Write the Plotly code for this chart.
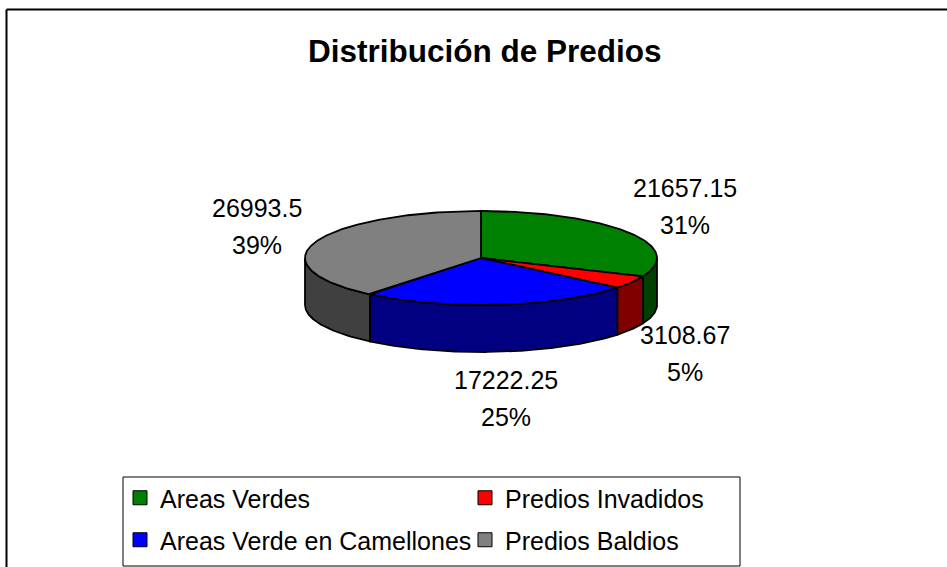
import math
import plotly.graph_objects as go

# Land-use breakdown (area per category)
categories = ["Areas Verdes", "Predios Invadidos", "Areas Verde en Camellones", "Predios Baldios"]
values = [21657.15, 3108.67, 17222.25, 26993.5]
top_colors = ["#008000", "#FF0000", "#0000FF", "#808080"]
side_colors = ["#004000", "#800000", "#000080", "#404040"]

TITLE = "Distribución de Predios"
FONT = "Liberation Sans, Arial, sans-serif"

# Canvas is mapped 1:1 to axis units so the tilted pie can be laid out in pixels
W, H = 947, 567
CX, CY = 481, 258      # centre of the top face
RX, RY = 176, 47       # semi-axes of the tilted top face
DEPTH = 47             # thickness of the pie

total = sum(values)
fracs = [v / total for v in values]
bounds = [0.0]
for f in fracs:
    bounds.append(bounds[-1] + f * 360.0)


def rim(theta, drop=0.0):
    """Point on the pie rim; theta in degrees clockwise from 12 o'clock."""
    t = math.radians(theta)
    return CX + RX * math.sin(t), CY - RY * math.cos(t) + drop


def arc(a0, a1, drop=0.0):
    n = max(3, int(abs(a1 - a0) * 2) + 1)
    return [rim(a0 + (a1 - a0) * i / (n - 1), drop) for i in range(n)]


def poly_trace(pts, fill):
    xs = [p[0] for p in pts] + [pts[0][0]]
    ys = [p[1] for p in pts] + [pts[0][1]]
    return go.Scatter(
        x=xs, y=ys, mode="lines", fill="toself", fillcolor=fill,
        line=dict(color="black", width=1.8), hoverinfo="skip", showlegend=False,
    )


fig = go.Figure()

# Outer walls: only the front half (90..270 degrees) faces the viewer
for i in range(len(values)):
    lo, hi = max(bounds[i], 90.0), min(bounds[i + 1], 270.0)
    if hi > lo:
        pts = arc(lo, hi) + arc(hi, lo, DEPTH)
        fig.add_trace(poly_trace(pts, side_colors[i]))

# Top faces
for i in range(len(values)):
    pts = [(CX, CY)] + arc(bounds[i], bounds[i + 1])
    fig.add_trace(poly_trace(pts, top_colors[i]))

# Legend entries (square swatches), split over two rows
for i, name in enumerate(categories):
    fig.add_trace(go.Scatter(
        x=[None], y=[None], mode="markers", name=name,
        marker=dict(symbol="square", size=14, color=top_colors[i],
                    line=dict(color="black", width=1)),
        legend="legend" if i < 2 else "legend2",
    ))

# Data labels: value and share, placed just outside each slice's mid-angle
CHAR_W = {".": 0.278, "%": 0.889}
LABEL_SIZE = 25
LINE_GAP = 37


def text_width(s, size):
    return sum(CHAR_W.get(c, 0.556) for c in s) * size


annotations = []
for i, v in enumerate(values):
    mid = (bounds[i] + bounds[i + 1]) / 2
    t = math.radians(mid)
    front = 90 < mid < 270
    px, py = rim(mid, DEPTH if front else 0)
    val_txt = str(v)
    pct_txt = f"{round(100 * v / total)}%"
    w = max(text_width(val_txt, LABEL_SIZE), text_width(pct_txt, LABEL_SIZE))
    h = 2 * LINE_GAP
    lx = px + math.sin(t) * (w / 2 + 17)
    ly = py - math.cos(t) * (h / 2 + 10)
    for txt, dy in ((val_txt, -LINE_GAP / 2), (pct_txt, LINE_GAP / 2)):
        annotations.append(dict(
            x=lx, y=ly + dy, xref="x", yref="y", text=txt, showarrow=False,
            xanchor="center", yanchor="middle",
            font=dict(family=FONT, size=LABEL_SIZE, color="black"),
        ))

annotations.append(dict(
    x=485, y=51, xref="x", yref="y", text=f"<b>{TITLE}</b>", showarrow=False,
    xanchor="center", yanchor="middle",
    font=dict(family=FONT, size=31.5, color="black"),
))

legend_common = dict(
    orientation="h", xanchor="left", yanchor="middle", x=120 / W,
    font=dict(family=FONT, size=25, color="black"),
    entrywidth=300, bgcolor="rgba(0,0,0,0)", borderwidth=0, traceorder="normal",
)

fig.update_layout(
    width=W, height=H,
    margin=dict(l=0, r=0, t=0, b=0),
    paper_bgcolor="white", plot_bgcolor="white",
    xaxis=dict(range=[0, W], visible=False, fixedrange=True),
    yaxis=dict(range=[H, 0], visible=False, fixedrange=True),
    annotations=annotations,
    legend=dict(legend_common, y=1 - 498 / H),
    legend2=dict(legend_common, y=1 - 540 / H),
    shapes=[
        # chart frame
        dict(type="line", xref="x", yref="y", x0=6.5, y0=9.5, x1=W, y1=9.5,
             line=dict(color="black", width=2)),
        dict(type="line", xref="x", yref="y", x0=6.5, y0=9.5, x1=6.5, y1=H,
             line=dict(color="black", width=2)),
        # legend box
        dict(type="rect", xref="x", yref="y", x0=123, y0=477, x1=740, y1=566,
             line=dict(color="black", width=1)),
    ],
    showlegend=True,
)

fig.write_html("out.html")
